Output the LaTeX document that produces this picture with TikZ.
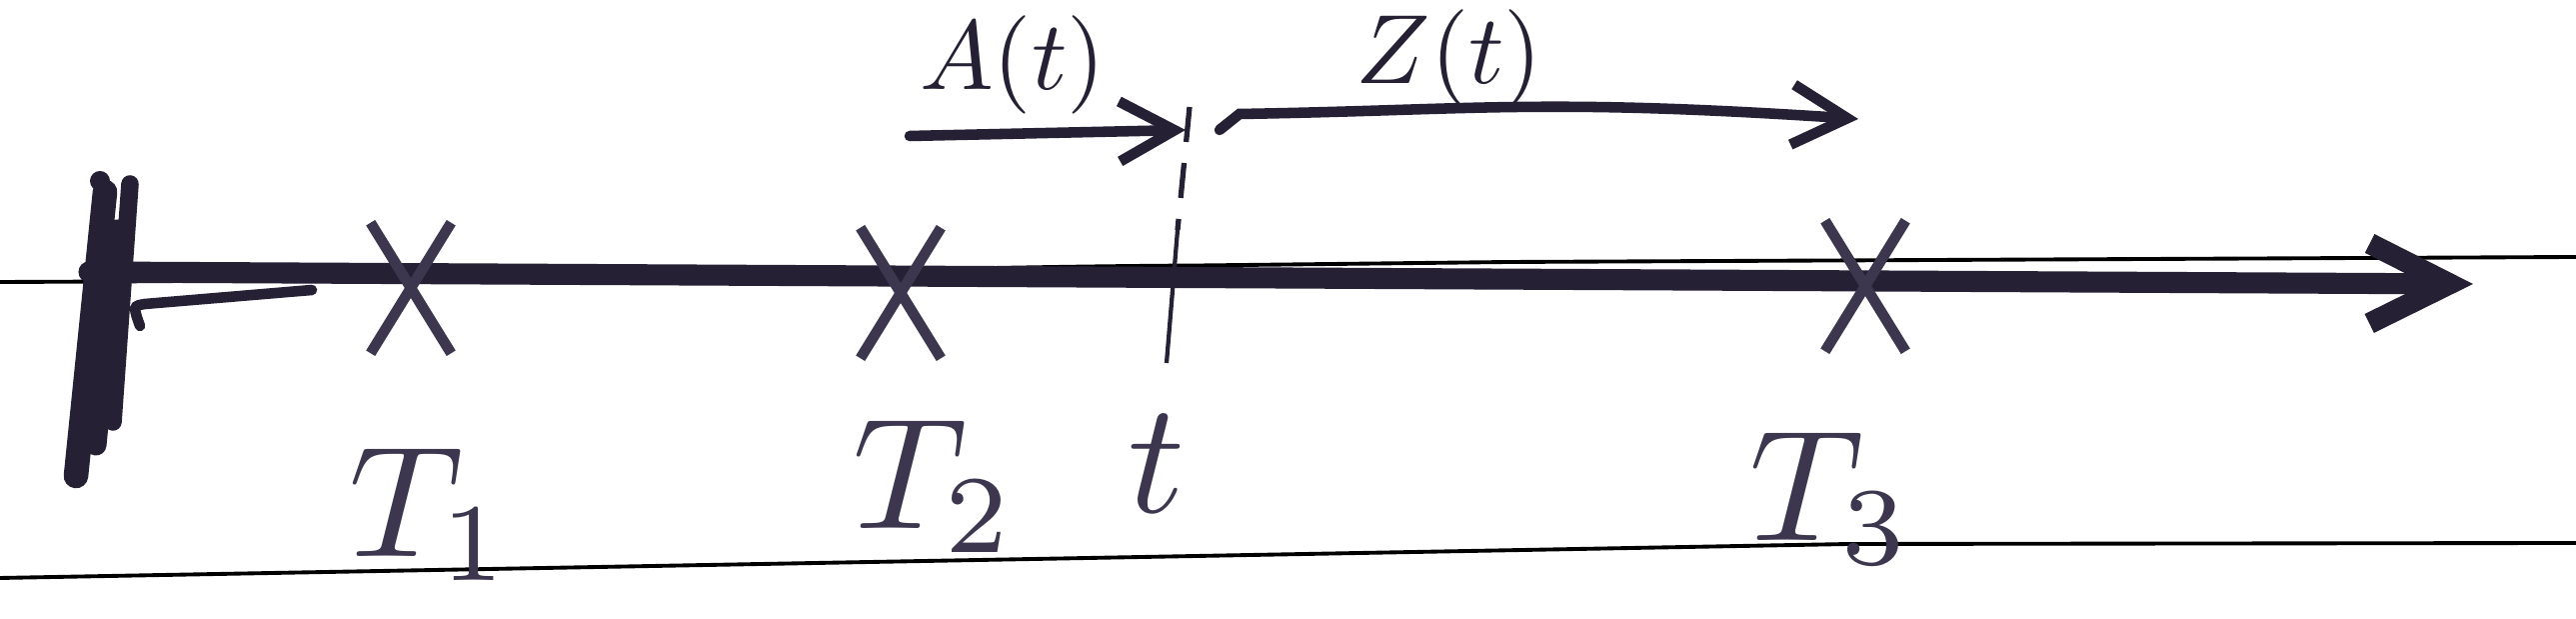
\documentclass[tikz,border=0pt]{standalone}
\usetikzlibrary{arrows.meta,shapes.misc}
\definecolor{ink}{RGB}{38,32,52}
\definecolor{pencil}{RGB}{60,54,78}
\tikzstyle{rule} = [draw,black,line width=1.1pt]
\tikzstyle{axisline} = [draw,ink,line width=6pt,line cap=round,-{Straight Barb[length=8mm,width=8mm]}]
\tikzstyle{spanarrow} = [draw,ink,line width=3pt,line cap=round,-{Straight Barb[length=5.5mm,width=6mm]}]
\tikzstyle{xmark} = [cross out,draw=pencil,line width=3pt,minimum width=0.7cm,minimum height=1.2cm,inner sep=0pt]
\tikzstyle{tlabel} = [pencil,scale=4.5,anchor=base,inner sep=0pt]
\tikzstyle{flabel} = [ink,scale=2.8,anchor=base,inner sep=0pt]

\begin{document}
\begin{tikzpicture}
  \useasboundingbox[fill=white] (0,0) rectangle (25.77,-6.19);

  % ruled paper
  \draw[rule] (0,-2.82) .. controls (6.0,-2.80) and (9.0,-2.67) .. (12.0,-2.655) -- (15.1,-2.62) -- (25.77,-2.57);
  \draw[rule] (0,-5.78) -- (18.5,-5.44) -- (25.77,-5.43);

  % time axis
  \coordinate (origin) at (0.89,-2.72);
  \coordinate (axisend) at (24.74,-2.84);
  \path[axisline] (origin) -- (axisend);

  % wall at zero
  \draw[ink,line width=7pt,line cap=round] (1.05,-1.92) -- (0.76,-4.76);
  \draw[ink,line width=6pt,line cap=round] (1.17,-2.30) -- (0.96,-4.45);
  \draw[ink,line width=5pt,line cap=round] (1.30,-1.84) -- (1.13,-4.22);
  \fill[ink] (1.00,-1.81) circle (0.1);
  \draw[ink,line width=3pt,line cap=round] (3.12,-2.90) -- (1.45,-3.04) .. controls (1.33,-3.06) .. (1.40,-3.26);

  % events
  \foreach \pos/\name in {{(4.11,-2.88)/x1},{(9.01,-2.93)/x2},{(18.66,-2.86)/x3}}
    \node[xmark] (\name) at \pos {};

  % current time
  \coordinate (ttop) at (11.90,-1.07);
  \coordinate (tmid) at (11.78,-2.30);
  \coordinate (tbot) at (11.67,-3.63);
  \draw[ink,line width=1.5pt,dash pattern=on 10pt off 6pt] (ttop) -- (tmid);
  \draw[ink,line width=1.2pt] (tmid) -- (tbot);

  \foreach \pos/\name/\lbl in {{(4.31,-5.57)/T1/$T_1$},{(9.35,-5.29)/T2/$T_2$},{(11.57,-5.13)/tt/$t$},{(18.32,-5.41)/T3/$T_3$}}
    \node[tlabel] (\name) at \pos {\lbl};

  % age and residual life
  \coordinate (As) at (9.10,-1.36);
  \coordinate (Ae) at (11.86,-1.30);
  \path[spanarrow] (As) -- (Ae);
  \coordinate (Zs) at (12.20,-1.30);
  \coordinate (Ze) at (18.59,-1.19);
  \path[spanarrow] (Zs) -- (12.40,-1.14) .. controls (14.8,-1.10) and (15.4,-0.98) .. (Ze);

  \node[flabel] (Alab) at (10.13,-0.90) {$A(t)$};
  \node[flabel] (Zlab) at (14.50,-0.84) {$Z(t)$};
\end{tikzpicture}
\end{document}
